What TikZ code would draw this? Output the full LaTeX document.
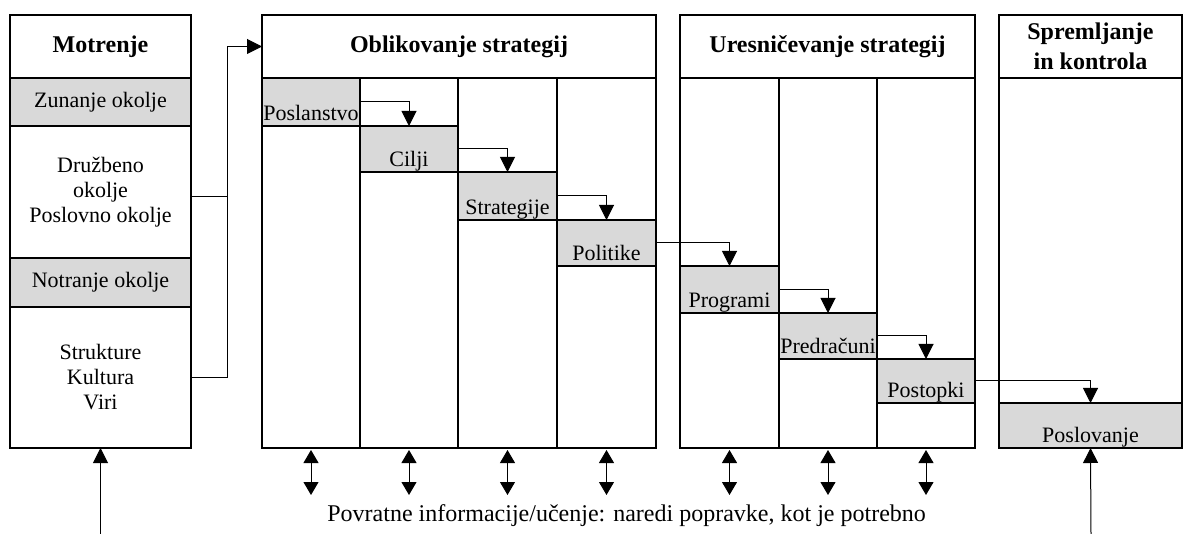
\documentclass[tikz,border=0pt]{standalone}
\usepackage{fontspec}
\setmainfont{Liberation Serif}
\usetikzlibrary{arrows.meta}

\definecolor{cellgray}{RGB}{217,217,217}

\tikzset{
  box/.style={draw, line width=1.3pt, inner sep=0pt, outer sep=0pt, anchor=north west,
    font=\fontsize{11}{12.5}\selectfont},
  head/.style={box, align=center, font=\fontsize{12}{15}\selectfont\bfseries},
  cell/.style={box, fill=cellgray},
  stepcell/.style={cell, text height=#1, text depth=2.5pt},
  link/.style={line width=0.5pt, -{Triangle[length=7.5pt,width=7.5pt]}},
  fb/.style={line width=0.5pt, {Triangle[length=6.5pt,width=7.5pt]}-{Triangle[length=6.5pt,width=7.5pt]}},
}

\begin{document}
\begin{tikzpicture}[x=0.5pt, y=-0.5pt]
    \useasboundingbox (0,0) rectangle (1184,534);

    % Motrenje
    \node[head, minimum width=90.5pt, minimum height=31.5pt] (motr) at (10,15) {Motrenje};
    \node[cell, minimum width=90.5pt, minimum height=24pt] (zun) at (10,78) {Zunanje okolje};
    \node[box, align=center, minimum width=90.5pt, minimum height=66pt] (druz) at (10,126)
        {Družbeno\\okolje\\Poslovno okolje};
    \node[cell, minimum width=90.5pt, minimum height=24.5pt] (notr) at (10,258) {Notranje okolje};
    \node[box, align=center, minimum width=90.5pt, minimum height=70.5pt] (strk) at (10,307)
        {Strukture\\Kultura\\Viri};

    % glave stolpcev
    \node[head, minimum width=197pt, minimum height=31.5pt] (oblk) at (262,15) {Oblikovanje strategij};
    \node[head, minimum width=147.5pt, minimum height=31.5pt] (ures) at (680,15) {Uresničevanje strategij};
    \node[head, minimum width=91.5pt, minimum height=31.5pt] (sprm) at (999,15) {Spremljanje\\in kontrola};

    % stolpci
    \foreach \n/\x/\w in {c1/262/49pt, c2/360/49pt, c3/458/49.5pt, c4/557/49.5pt,
                          c5/680/49.5pt, c6/779/49pt, c7/877/49pt, c8/999/91.5pt}
        \node[box, minimum width=\w, minimum height=185pt] (\n) at (\x,78) {};

    % koraki
    \node[stepcell=21.5pt, minimum width=49pt] (posl) at (262,78) {Poslanstvo};
    \node[stepcell=20.5pt, minimum width=49pt] (cilj) at (360,126) {Cilji};
    \node[stepcell=21.5pt, minimum width=49.5pt] (strt) at (458,172) {Strategije};
    \node[stepcell=20.5pt, minimum width=49.5pt] (polt) at (557,220) {Politike};
    \node[stepcell=21pt, minimum width=49.5pt] (prog) at (680,266) {Programi};
    \node[stepcell=20.5pt, minimum width=49pt] (pred) at (779,313) {Predračuni};
    \node[stepcell=19.5pt, minimum width=49pt] (post) at (877,359) {Postopki};
    \node[stepcell=20pt, minimum width=91.5pt] (posv) at (999,403) {Poslovanje};

    \draw[link] (posl.east) -| (cilj.north);
    \draw[link] (cilj.east) -| (strt.north);
    \draw[link] (strt.east) -| (polt.north);
    \draw[link] (polt.east) -| (prog.north);
    \draw[link] (prog.east) -| (pred.north);
    \draw[link] (pred.east) -| (post.north);
    \draw[link] (post.east) -| (posv.north);

    % povezava okolje -> oblikovanje
    \coordinate (trunk) at (227,0);
    \draw[line width=0.5pt] ([yshift=-2.5pt]druz.east) -- ([yshift=-2.5pt]druz.east -| trunk);
    \draw[link] (strk.east) -- (strk.east -| trunk) -- (trunk |- oblk.west) -- (oblk.west);

    % povratne informacije
    \foreach \c in {c1,c2,c3,c4,c5,c6,c7}
        \draw[fb] ([yshift=-1pt]\c.south) -- ++(0,45);
    \node[anchor=base west, inner sep=0pt, font=\fontsize{12}{14}\selectfont] (povr) at (327,521)
        {Povratne informacije/učenje: naredi popravke, kot je potrebno};

    % vhoda od spodaj
    \coordinate (inL) at (100.5,534);
    \coordinate (inR) at (1091,534);
    \draw[link] (inL) -- (strk.south);
    \draw[link] (inR) -- (posv.south);
\end{tikzpicture}
\end{document}
